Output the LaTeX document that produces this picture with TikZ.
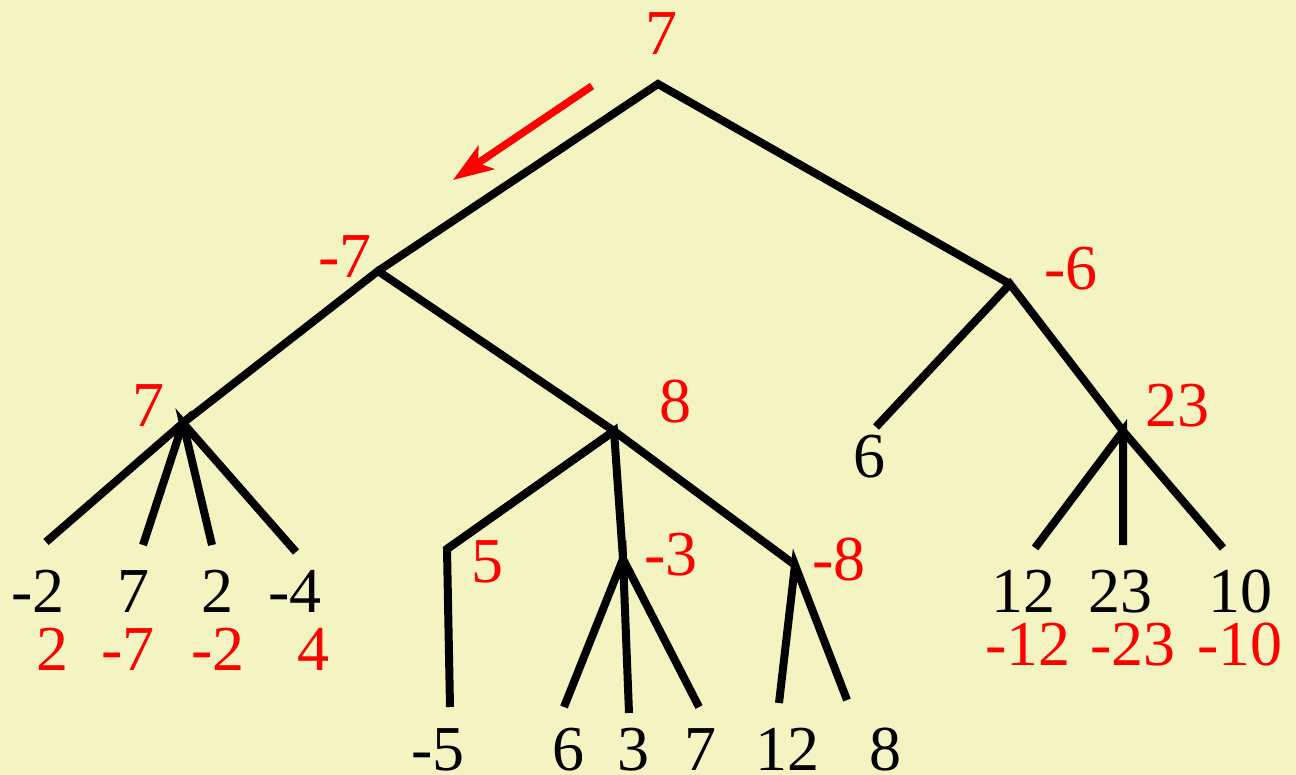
\documentclass[tikz,border=0pt]{standalone}
\usepackage{fontspec}
\setmainfont{Liberation Serif}
\newfontfamily\numfont{Liberation Serif}
\newfontfamily\rednumfont{Liberation Serif}[Color=FF0000]
\usetikzlibrary{arrows.meta}
\definecolor{bgyellow}{RGB}{243,244,193}
\begin{document}
\begin{tikzpicture}[x=1pt,y=-1pt,
  edge/.style={line width=8pt,black},
  blk/.style={anchor=base,inner sep=0pt,font=\numfont\fontsize{64}{70}\selectfont},
  rd/.style={anchor=base,inner sep=0pt,font=\rednumfont\fontsize{64}{70}\selectfont},
  hint/.style={line width=7.5pt,red,-{Stealth[length=40pt,width=28pt,inset=10pt]}}]
\fill[bgyellow] (0,0) rectangle (1296,775);
\useasboundingbox (0,0) rectangle (1296,775);
% tree nodes
\coordinate (r) at (658,84);
\coordinate (a) at (378,271);
\coordinate (b) at (1010,284);
\coordinate (c) at (183,423);
\coordinate (d) at (614,431);
\coordinate (e) at (447,549);
\coordinate (f) at (623,559);
\coordinate (g) at (795,565);
\coordinate (h) at (1123,431);
% leaves
\coordinate (c1) at (46,542);
\coordinate (c2) at (143,545);
\coordinate (c3) at (212,545);
\coordinate (c4) at (296,552);
\coordinate (e1) at (450,707);
\coordinate (f1) at (564,707);
\coordinate (f2) at (629,713);
\coordinate (f3) at (699,707);
\coordinate (g1) at (779,703);
\coordinate (g2) at (847,700);
\coordinate (b1) at (876,427);
\coordinate (h1) at (1035,548);
\coordinate (h2) at (1123,545);
\coordinate (h3) at (1223,548);
% edges
\draw[edge] (a) -- (r) -- (b);
\draw[edge] (c) -- (a) -- (d);
\draw[edge] (c1) -- (c) -- (c2);
\draw[edge] (c3) -- (c) -- (c4);
\draw[edge] (e) -- (d) -- (f);
\draw[edge] (d) -- (g);
\draw[edge] (d) -- (e) -- (e1);
\draw[edge] (f1) -- (f) -- (f2);
\draw[edge] (f) -- (f3);
\draw[edge] (g1) -- (g) -- (g2);
\draw[edge] (b1) -- (b) -- (h);
\draw[edge] (h1) -- (h) -- (h2);
\draw[edge] (h) -- (h3);
% red arrow
\coordinate (at) at (592,86);
\coordinate (ah) at (453,180);
\draw[hint] (at) -- (ah);
% red minimax values
\node[rd] (lr) at (661,55) {7};
\node[rd] (la) at (345,278) {-7};
\node[rd] (lb) at (1071,290) {-6};
\node[rd] (lc) at (148,427) {7};
\node[rd] (ld) at (675,423) {8};
\node[rd] (le) at (487,582) {5};
\node[rd] (lf) at (671,575) {-3};
\node[rd] (lg) at (839,580) {-8};
\node[rd] (lh) at (1177,427) {23};
% black leaf values
\node[blk] (tc1) at (38,612) {-2};
\node[blk] (tc2) at (133,612) {7};
\node[blk] (tc3) at (217,612) {2};
\node[blk] (tc4) at (295,612) {-4};
\node[blk] (te1) at (438,770) {-5};
\node[blk] (tf1) at (568,770) {6};
\node[blk] (tf2) at (633,770) {3};
\node[blk] (tf3) at (700,770) {7};
\node[blk] (tg1) at (787,770) {12};
\node[blk] (tg2) at (885,770) {8};
\node[blk] (tb1) at (869,477) {6};
\node[blk] (th1) at (1023,612) {12};
\node[blk] (th2) at (1120,612) {23};
\node[blk] (th3) at (1240,612) {10};
% red negated leaf values
\node[rd] (nc1) at (52,670) {2};
\node[rd] (nc2) at (128,670) {-7};
\node[rd] (nc3) at (218,670) {-2};
\node[rd] (nc4) at (313,670) {4};
\node[rd] (nh1) at (1028,665) {-12};
\node[rd] (nh2) at (1133,665) {-23};
\node[rd] (nh3) at (1240,665) {-10};
\end{tikzpicture}
\end{document}
